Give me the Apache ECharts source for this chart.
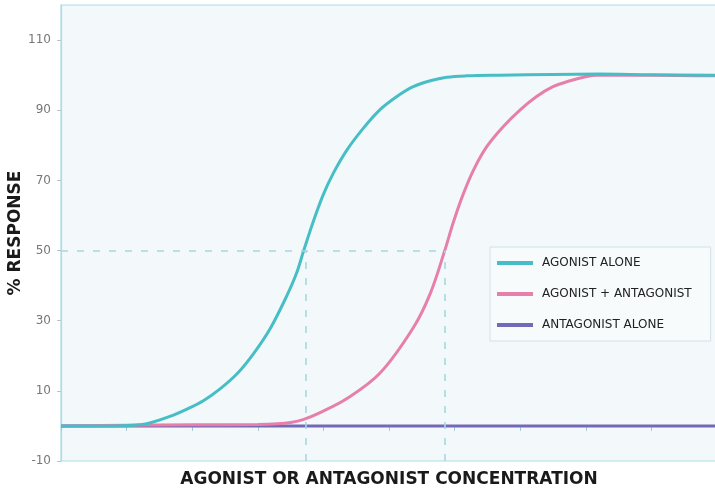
<!DOCTYPE html>
<html>
<head>
<meta charset="utf-8">
<script src="https://cdn.jsdelivr.net/npm/echarts@6/dist/echarts.min.js"></script>
<style>
  html, body { margin: 0; padding: 0; background: #ffffff; }
  #chart { width: 715px; height: 494px; }
</style>
</head>
<body>
<div id="chart"></div>
<script>
// Concentration (arbitrary log units, 0–100) vs % response
var agonistAlone = [
  [0, 0], [8, 0], [11, 0.2], [13.1, 0.6], [16.6, 2.7], [19.2, 4.8],
  [21.7, 7.2], [24.2, 10.5], [26.8, 14.8], [29.3, 20.5], [31.9, 27.8],
  [34.4, 37], [35.9, 43.5], [37.0, 50], [38.5, 58.5], [40.0, 66],
  [41.5, 72], [43.6, 78.7], [46.1, 84.9], [48.6, 90.1], [51.2, 93.9],
  [53.7, 96.7], [56.3, 98.4], [58.8, 99.4], [61.8, 99.8], [66.9, 100],
  [75, 100.2], [82, 100.3], [90, 100.1], [100, 100]
];
var agonistPlusAntagonist = [
  [0, 0], [10, 0.2], [20, 0.3], [30, 0.4], [33, 0.6], [35, 1.0], [36.9, 1.8],
  [39.5, 3.8], [43.6, 7.8], [48.6, 15], [53.7, 28], [56.3, 37.8],
  [58.5, 50], [59.8, 58], [61.3, 66], [62.9, 73], [64.9, 79.6],
  [67.4, 85.3], [70.0, 90.1], [72.5, 93.9], [75.0, 96.7], [77.6, 98.4],
  [80.1, 99.6], [81.7, 100], [89.8, 100], [100, 99.8]
];
var antagonistAlone = [[0, 0], [100, 0]];

// EC50 guides: half-maximal response and the two concentrations reaching it
var halfResponse = 50;
var ec50Agonist = 37.3;
var ec50WithAntagonist = 58.5;

var seriesNames = ['AGONIST ALONE', 'AGONIST + ANTAGONIST', 'ANTAGONIST ALONE'];
var yMin = -10, yMax = 120, yStep = 20;
var xMin = 0, xMax = 100, xStep = 10;

var guideStyle = { color: '#a9d6e3', type: [7, 9], width: 1.6 };

var chart = echarts.init(document.getElementById('chart'));
chart.setOption({
  animation: false,
  backgroundColor: '#ffffff',
  grid: {
    left: 61, top: 5, right: -2, bottom: 33,
    outerBoundsMode: 'none',
    containLabel: false,
    show: true,
    backgroundColor: '#f3f9fb',
    borderColor: '#a9dde7',
    borderWidth: 1.2
  },
  legend: {
    orient: 'vertical',
    left: 490, top: 247,
    data: seriesNames,
    icon: 'rect',
    itemWidth: 36, itemHeight: 4,
    itemGap: 19,
    padding: [10, 19, 10, 7],
    backgroundColor: '#f8fbfc',
    borderColor: '#cfe2e8',
    borderWidth: 1,
    textStyle: { fontFamily: 'DejaVu Sans', fontSize: 12, color: '#222222', padding: [0, 0, 0, 4] }
  },
  xAxis: {
    type: 'value',
    min: xMin, max: xMax, interval: xStep,
    name: 'AGONIST OR ANTAGONIST CONCENTRATION',
    nameLocation: 'middle',
    nameGap: 10,
    nameMoveOverlap: false,
    nameTextStyle: { fontFamily: 'DejaVu Sans', fontSize: 17, fontWeight: 'bold', color: '#1a1a1a', verticalAlign: 'top' },
    axisLine: { onZero: true, lineStyle: { color: '#a9dde7' } },
    axisTick: { show: true, length: 5, lineStyle: { color: '#a8c8d6' } },
    axisLabel: { show: false },
    splitLine: { show: false }
  },
  yAxis: {
    type: 'value',
    min: yMin, max: yMax, interval: yStep,
    name: '% RESPONSE',
    nameLocation: 'middle',
    nameRotate: 90,
    nameGap: 45,
    nameMoveOverlap: false,
    nameTextStyle: { fontFamily: 'DejaVu Sans', fontSize: 17, fontWeight: 'bold', color: '#1a1a1a', verticalAlign: 'middle' },
    axisLine: { show: true, lineStyle: { color: '#a9dde7', width: 1.2 } },
    axisTick: { show: true, length: 4, lineStyle: { color: '#b8c4c8' } },
    axisLabel: { showMaxLabel: false, fontFamily: 'DejaVu Sans', fontSize: 12, color: '#777777', margin: 10 },
    splitLine: { show: false }
  },
  series: [
    {
      name: seriesNames[2],
      type: 'line',
      data: antagonistAlone,
      showSymbol: false,
      lineStyle: { color: '#7468b9', width: 3 },
      itemStyle: { color: '#7468b9' },
      z: 2
    },
    {
      name: seriesNames[1],
      type: 'line',
      data: agonistPlusAntagonist,
      smooth: 0.35,
      showSymbol: false,
      lineStyle: { color: '#e77fab', width: 3 },
      itemStyle: { color: '#e77fab' },
      z: 3
    },
    {
      name: seriesNames[0],
      type: 'line',
      data: agonistAlone,
      smooth: 0.35,
      showSymbol: false,
      lineStyle: { color: '#47bec6', width: 3 },
      itemStyle: { color: '#47bec6' },
      z: 4,
      markLine: {
        silent: true,
        symbol: 'none',
        label: { show: false },
        lineStyle: guideStyle,
        data: [
          [{ coord: [xMin, halfResponse] }, { coord: [ec50WithAntagonist, halfResponse] }],
          [{ coord: [ec50Agonist, yMin] }, { coord: [ec50Agonist, halfResponse] }],
          [{ coord: [ec50WithAntagonist, yMin] }, { coord: [ec50WithAntagonist, halfResponse] }]
        ]
      }
    }
  ]
});
</script>
</body>
</html>
